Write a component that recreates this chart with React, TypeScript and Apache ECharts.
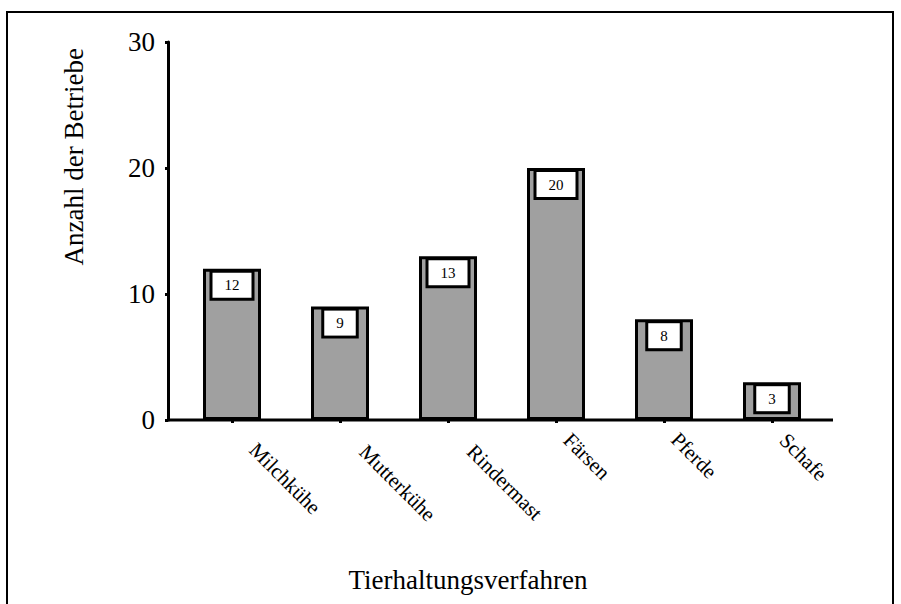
import React, { useEffect, useRef } from "react";
import * as echarts from "echarts";

const categories = ["Milchkühe", "Mutterkühe", "Rindermast", "Färsen", "Pferde", "Schafe"];
const values = [12, 9, 13, 20, 8, 3];
const yTitle = "Anzahl der Betriebe";
const xTitle = "Tierhaltungsverfahren";

const FONT = "'Liberation Serif', 'Times New Roman', serif";
const CAT_FONT_SIZE = 21;

function measure(text: string, size: number): number {
  const c = document.createElement("canvas").getContext("2d");
  if (!c) return text.length * size * 0.45;
  c.font = `${size}px 'Liberation Serif', 'Times New Roman', serif`;
  return c.measureText(text).width;
}

export default function App() {
  const ref = useRef<HTMLDivElement>(null);
  useEffect(() => {
    if (!ref.current) return;
    const chart = echarts.init(ref.current, null, { renderer: "svg" });
    const catData = categories.map((c) => {
      const L = measure(c, CAT_FONT_SIZE);
      const p = Math.max(0, 15.5 + 0.4 * (L - 56));
      return { value: c, textStyle: { padding: [0, 0, 0, p] } };
    });
    chart.setOption({
      animation: false,
      backgroundColor: "#fff",
      grid: { left: 178, right: 75, top: 42, bottom: 184, containLabel: false },
      xAxis: {
        type: "category",
        data: catData,
        axisLine: { show: false },
        axisTick: { show: true, alignWithLabel: true, length: 3, lineStyle: { color: "#000", width: 3 } },
        axisLabel: {
          rotate: -45,
          margin: 5.5,
          fontSize: CAT_FONT_SIZE,
          fontFamily: FONT,
          color: "#000",
          interval: 0,
        },
      },
      yAxis: {
        type: "value",
        min: 0,
        max: 30,
        interval: 10,
        offset: 10,
        axisLine: { show: true, lineStyle: { color: "#000", width: 3 } },
        axisTick: { show: true, length: 3, lineStyle: { color: "#000", width: 3 } },
        axisLabel: { margin: 13, fontSize: 27, fontFamily: FONT, color: "#000" },
        splitLine: { show: false },
      },
      series: [
        {
          type: "bar",
          data: values,
          barWidth: 58,
          itemStyle: { color: "#a0a0a0", borderColor: "#000", borderWidth: 3 },
          label: {
            show: true,
            position: "insideTop",
            distance: 4,
            backgroundColor: "#fff",
            borderColor: "#000",
            borderWidth: 3,
            padding: [5, 12],
            lineHeight: 15,
            fontSize: 15,
            fontFamily: FONT,
            color: "#000",
          },
        },
      ],
      graphic: [
        {
          type: "rect",
          shape: { x: 7, y: 12, width: 886, height: 700 },
          style: { fill: "none", stroke: "#000", lineWidth: 2 },
          silent: true,
        },
        {
          type: "line",
          shape: { x1: 168, y1: 420, x2: 833, y2: 420 },
          style: { stroke: "#000", lineWidth: 3 },
          silent: true,
        },
        {
          type: "text",
          x: 74,
          y: 48,
          rotation: Math.PI / 2,
          style: {
            text: yTitle,
            fontSize: 27,
            fontFamily: FONT,
            fill: "#000",
            textAlign: "right",
            textVerticalAlign: "middle",
          },
        },
        {
          type: "text",
          x: 468,
          y: 580,
          style: {
            text: xTitle,
            fontSize: 27,
            fontFamily: FONT,
            fill: "#000",
            textAlign: "center",
            textVerticalAlign: "middle",
          },
        },
      ],
    });
    return () => chart.dispose();
  }, []);
  return <div ref={ref} style={{ width: 901, height: 604, position: "absolute", left: 0, top: 0 }} />;
}
